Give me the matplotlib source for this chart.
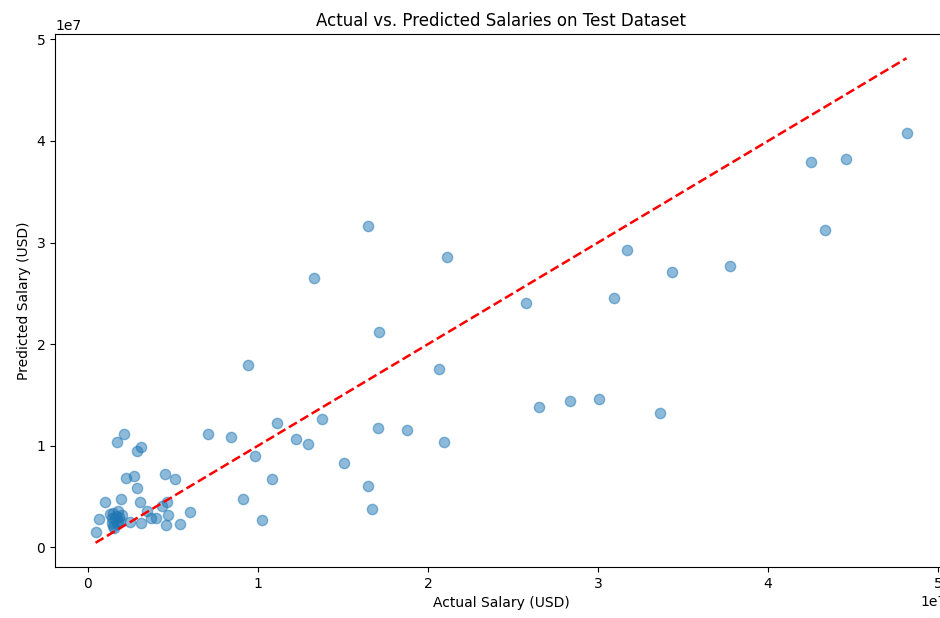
import matplotlib
matplotlib.use("Agg")
import matplotlib.pyplot as plt
import numpy as np

# values in units of 1e7 USD
actual_salary = np.array([
    0.045, 0.066, 0.099, 0.129, 0.149, 0.178, 0.159, 0.139, 0.188, 0.169,
    0.149, 0.196, 0.172, 0.213, 0.290, 0.315, 0.227, 0.270, 0.290, 0.304,
    0.247, 0.315, 0.348, 0.374, 0.401, 0.433, 0.466, 0.472, 0.458, 0.452,
    0.513, 0.543, 0.599, 0.708, 0.843, 0.911, 0.942, 0.985, 1.026, 1.083,
    1.112, 1.222, 1.294, 1.332, 1.379, 1.504, 1.649, 1.649, 1.669, 1.704,
    1.710, 1.878, 2.066, 2.096, 2.109, 2.579, 2.650, 2.838, 3.006, 3.096,
    3.171, 3.367, 3.435, 3.774, 4.254, 4.334, 4.458, 4.814,
    0.165, 0.185, 0.155, 0.175, 0.200, 0.140,
])
predicted_salary = np.array([
    0.150, 0.275, 0.442, 0.324, 0.341, 0.357, 0.275, 0.242, 0.258, 0.226,
    0.209, 0.472, 1.034, 1.115, 0.953, 0.989, 0.681, 0.706, 0.583, 0.445,
    0.249, 0.243, 0.357, 0.290, 0.285, 0.410, 0.445, 0.320, 0.219, 0.719,
    0.670, 0.226, 0.352, 1.113, 1.090, 0.480, 1.791, 0.897, 0.273, 0.668,
    1.225, 1.071, 1.022, 2.655, 1.264, 0.828, 3.166, 0.606, 0.373, 1.172,
    2.117, 1.159, 1.758, 1.034, 2.859, 2.403, 1.385, 1.444, 1.464, 2.459,
    2.927, 1.319, 2.714, 2.770, 3.789, 3.124, 3.825, 4.074,
    0.305, 0.295, 0.195, 0.245, 0.315, 0.285,
])

y_test = actual_salary * 1e7
y_pred = predicted_salary * 1e7

fig = plt.figure(figsize=(9.4, 6.18), dpi=100)
ax = fig.add_axes([0.0585, 0.0825, 0.949, 0.8625])

ax.scatter(y_test, y_pred, alpha=0.5, s=55)
ax.plot([y_test.min(), y_test.max()], [y_test.min(), y_test.max()], 'r--', lw=1.8)
ax.set_title("Actual vs. Predicted Salaries on Test Dataset")
ax.set_xlabel("Actual Salary (USD)")
ax.set_ylabel("Predicted Salary (USD)")

fig.savefig("out.png", dpi=100)
